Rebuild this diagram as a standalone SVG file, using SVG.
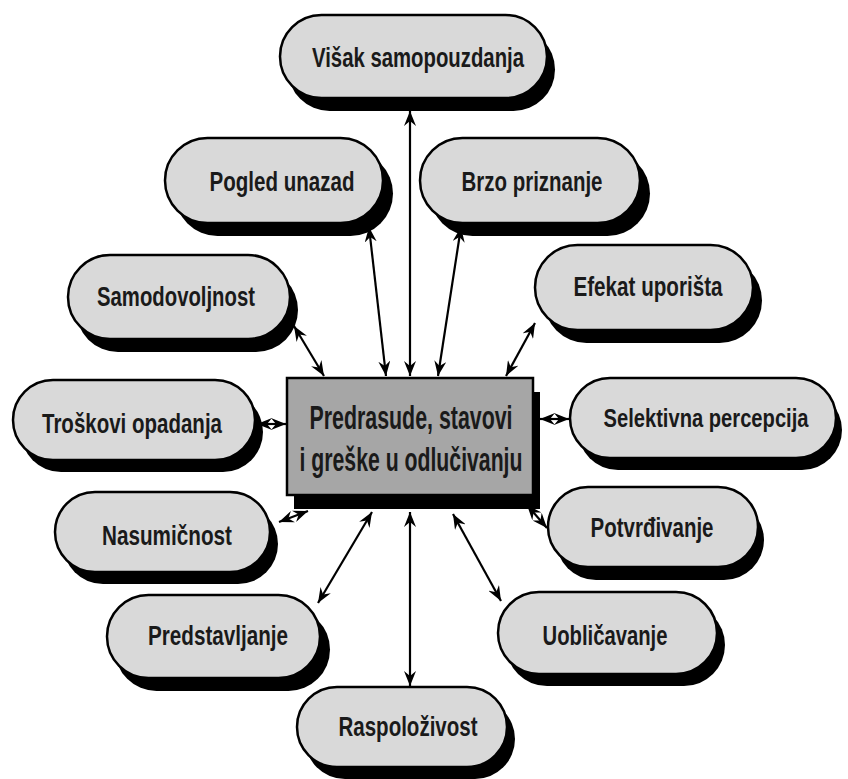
<svg xmlns="http://www.w3.org/2000/svg" width="848" height="779" viewBox="0 0 848 779">
<style>
.sh{fill:#000}
.pill{fill:#d9d9d9;stroke:#000;stroke-width:2.5}
.core{fill:#a6a6a6;stroke:#000;stroke-width:2.5}
.t{font-family:'Liberation Sans Narrow','Liberation Sans',Arial,sans-serif;font-weight:bold;font-size:27px;fill:#1a1a1a;text-anchor:middle}
.tc{font-size:33px}
.c{stroke:#000;stroke-width:2.2;fill:none;marker-start:url(#ah);marker-end:url(#ah)}
</style>
<defs>
<marker id="ah" markerUnits="userSpaceOnUse" markerWidth="16" markerHeight="12" refX="15" refY="6" orient="auto-start-reverse" viewBox="0 0 16 12">
<path d="M0,0 L15,6 L0,12 L5,6 Z" fill="#000"/>
</marker>
</defs>
<rect width="848" height="779" fill="#fff"/>
<g id="connectors">
<line class="c" x1="410" y1="111" x2="410" y2="376"/>
<line class="c" x1="369" y1="227" x2="386" y2="376"/>
<line class="c" x1="461" y1="227" x2="438" y2="376"/>
<line class="c" x1="294" y1="326" x2="324" y2="376"/>
<line class="c" x1="535" y1="323" x2="506" y2="376"/>
<line class="c" x1="257" y1="424" x2="286" y2="424"/>
<line class="c" x1="540" y1="419" x2="569" y2="419"/>
<line class="c" x1="279" y1="522" x2="308" y2="511"/>
<line class="c" x1="527" y1="505" x2="547" y2="528"/>
<line class="c" x1="318" y1="603" x2="372" y2="512"/>
<line class="c" x1="410" y1="512" x2="410" y2="686"/>
<line class="c" x1="453" y1="514" x2="501" y2="601"/>
</g>
<g id="node-visak">
<rect class="sh" x="288" y="28" width="267" height="83" rx="41.5"/>
<rect class="pill" x="280" y="15" width="267" height="83" rx="41.5"/>
<text class="t" x="418" y="67" textLength="212" lengthAdjust="spacingAndGlyphs">Višak samopouzdanja</text>
</g>
<g id="node-pogled">
<rect class="sh" x="175" y="151" width="218" height="85" rx="42.5"/>
<rect class="pill" x="165" y="138" width="218" height="85" rx="42.5"/>
<text class="t" x="282" y="191" textLength="145" lengthAdjust="spacingAndGlyphs">Pogled unazad</text>
</g>
<g id="node-brzo">
<rect class="sh" x="430" y="151" width="220" height="85" rx="42.5"/>
<rect class="pill" x="420" y="138" width="220" height="85" rx="42.5"/>
<text class="t" x="532" y="191" textLength="141" lengthAdjust="spacingAndGlyphs">Brzo priznanje</text>
</g>
<g id="node-samodovoljnost">
<rect class="sh" x="76" y="268" width="222" height="84" rx="42"/>
<rect class="pill" x="68" y="255" width="222" height="84" rx="42"/>
<text class="t" x="176" y="306" textLength="158" lengthAdjust="spacingAndGlyphs">Samodovoljnost</text>
</g>
<g id="node-efekat">
<rect class="sh" x="544" y="258" width="218" height="85" rx="42.5"/>
<rect class="pill" x="535" y="245" width="218" height="85" rx="42.5"/>
<text class="t" x="648" y="296" textLength="149" lengthAdjust="spacingAndGlyphs">Efekat uporišta</text>
</g>
<g id="node-troskovi">
<rect class="sh" x="21" y="392" width="242" height="80" rx="40"/>
<rect class="pill" x="13" y="380" width="242" height="80" rx="40"/>
<text class="t" x="132" y="433" textLength="180" lengthAdjust="spacingAndGlyphs">Troškovi opadanja</text>
</g>
<g id="node-centar">
<rect class="sh" x="294" y="392" width="246" height="117"/>
<rect class="core" x="287" y="378" width="246" height="117"/>
<text class="t tc" x="411" y="429" textLength="203" lengthAdjust="spacingAndGlyphs">Predrasude, stavovi</text>
<text class="t tc" x="411" y="471" textLength="223" lengthAdjust="spacingAndGlyphs">i greške u odlučivanju</text>
</g>
<g id="node-selektivna">
<rect class="sh" x="578" y="390" width="264" height="80" rx="40"/>
<rect class="pill" x="570" y="378" width="266" height="80" rx="40"/>
<text class="t" x="706" y="427" font-size="25" style="font-size:25px" textLength="205" lengthAdjust="spacingAndGlyphs">Selektivna percepcija</text>
</g>
<g id="node-nasumicnost">
<rect class="sh" x="63" y="504" width="215" height="80" rx="40"/>
<rect class="pill" x="55" y="492" width="215" height="80" rx="40"/>
<text class="t" x="167" y="545" textLength="130" lengthAdjust="spacingAndGlyphs">Nasumičnost</text>
</g>
<g id="node-potvrdjivanje">
<rect class="sh" x="556" y="500" width="208" height="80" rx="40"/>
<rect class="pill" x="548" y="487" width="210" height="80" rx="40"/>
<text class="t" x="652" y="537" textLength="123" lengthAdjust="spacingAndGlyphs">Potvrđivanje</text>
</g>
<g id="node-predstavljanje">
<rect class="sh" x="115" y="608" width="215" height="83" rx="41.5"/>
<rect class="pill" x="107" y="595" width="213" height="83" rx="41.5"/>
<text class="t" x="218" y="645" textLength="140" lengthAdjust="spacingAndGlyphs">Predstavljanje</text>
</g>
<g id="node-uoblicavanje">
<rect class="sh" x="506" y="604" width="219" height="82" rx="41"/>
<rect class="pill" x="498" y="592" width="219" height="82" rx="41"/>
<text class="t" x="605" y="645" textLength="125" lengthAdjust="spacingAndGlyphs">Uobličavanje</text>
</g>
<g id="node-raspolozivost">
<rect class="sh" x="305" y="699" width="210" height="80" rx="40"/>
<rect class="pill" x="297" y="687" width="210" height="80" rx="40"/>
<text class="t" x="408" y="736" textLength="139" lengthAdjust="spacingAndGlyphs">Raspoloživost</text>
</g>
</svg>
